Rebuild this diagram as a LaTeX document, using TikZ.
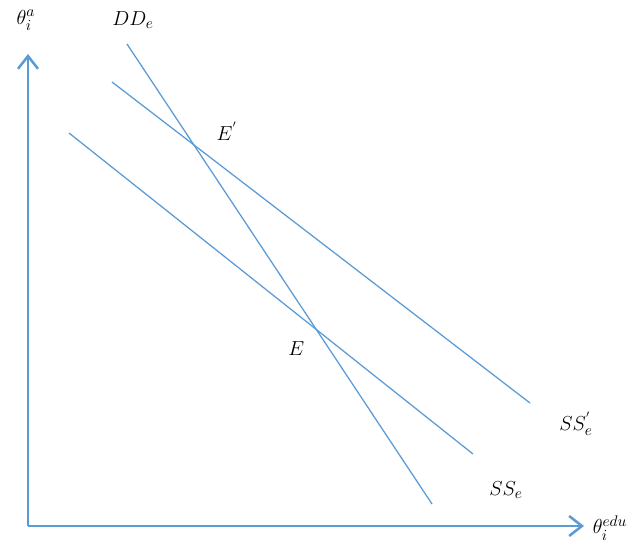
\documentclass[tikz,border=0pt]{standalone}
\usepackage{tikz}
\usetikzlibrary{arrows.meta, calc, intersections}
\usepackage{amsmath}

\definecolor{lineblue}{RGB}{91,155,213}

\tikzset{
    axis/.style={line width=1.8pt, lineblue, -{Straight Barb[length=3.2mm, width=5mm, line width=1.8pt]}},
    curve/.style={line width=0.9pt, lineblue},
    lbl/.style={font=\fontsize{15}{18}\selectfont}
}

\begin{document}
\begin{tikzpicture}[x=0.025cm, y=0.025cm]
    \useasboundingbox (0,0) rectangle (641,548);

    % Axes
    \coordinate (O) at (28,22);
    \coordinate (ytop) at (28,494);
    \coordinate (xend) at (584,22);
    \draw[axis] (O) -- (ytop);
    \draw[axis] (O) -- (xend);
    \node[lbl] (ylab) at (26,528) {$\theta_i^{a}$};
    \node[lbl] (xlab) at (610,20) {$\theta_i^{edu}$};

    % Demand and supply lines
    \coordinate (dd1) at (127,504);
    \coordinate (dd2) at (432,44);
    \coordinate (ssp1) at (112,466);
    \coordinate (ssp2) at (530,145);
    \coordinate (ss1) at (69,415);
    \coordinate (ss2) at (473,94);
    \draw[curve, name path=dd] (dd1) -- (dd2);
    \draw[curve, name path=ssp] (ssp1) -- (ssp2);
    \draw[curve, name path=ss] (ss1) -- (ss2);

    % Labels of the lines
    \node[lbl] (ddlab) at (133,528) {$DD_e$};
    \node[lbl] (ssplab) at (576,124) {$SS_e^{'}$};
    \node[lbl] (sslab) at (506,58) {$SS_e$};

    % Equilibria
    \path[name intersections={of=dd and ssp, by=Ep}];
    \path[name intersections={of=dd and ss, by=E}];
    \node[lbl] (Eplab) at ($(Ep)+(33,14)$) {$E^{'}$};
    \node[lbl] (Elab) at ($(E)+(-20,-19)$) {$E$};
\end{tikzpicture}
\end{document}
